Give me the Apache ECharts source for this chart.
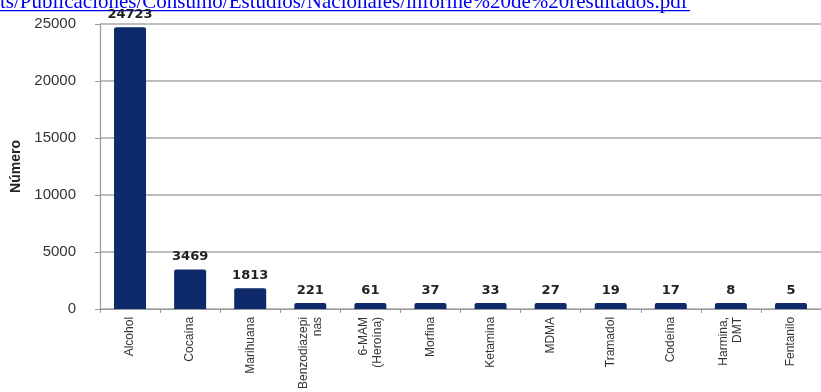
<!DOCTYPE html>
<html><head><meta charset="utf-8">
<script src="https://cdn.jsdelivr.net/npm/echarts@6/dist/echarts.min.js"></script>
<style>html,body{margin:0;padding:0;background:#fff}#c{width:821px;height:392px}</style>
</head><body><div id="c"></div>
<script>
const categories = ["Alcohol","Cocaína","Marihuana","Benzodiazepi\nnas","6-MAM\n(Heroína)","Morfina","Ketamina","MDMA","Tramadol","Codeína","Harmina,\nDMT","Fentanilo"];
const values = [24723,3469,1813,221,61,37,33,27,19,17,8,5];
const yTicks = [0,5000,10000,15000,20000,25000];
const urlText = "ts/Publicaciones/Consumo/Estudios/Nacionales/informe%20de%20resultados.pdf";
const yName = "Número";

const chart = echarts.init(document.getElementById('c'));
chart.setOption({
  animation:false,
  backgroundColor:'#fff',
  graphic:[{type:'text',left:0,top:-8,style:{text:urlText,fill:'#0000ee',font:'21px "Liberation Serif"'}},
           {type:'rect',left:0,top:10,shape:{width:690,height:1.2},style:{fill:'#0000ee'}}],
  grid:{left:100,right:-6,top:24,bottom:82},
  xAxis:{type:'category',data:categories,
    axisLine:{lineStyle:{color:'#9a9a9a',width:1.2}},
    axisTick:{show:true,length:4,lineStyle:{color:'#9a9a9a'}},
    axisLabel:{rotate:90,fontSize:12,color:'#333',fontFamily:'Liberation Sans',margin:8,lineHeight:14}},
  yAxis:{type:'value',min:0,max:25000,interval:5000,
    name:yName,nameLocation:'middle',nameGap:76,nameRotate:90,
    nameTextStyle:{fontWeight:'bold',fontSize:14,color:'#222',fontFamily:'Liberation Sans'},
    axisLine:{show:true,lineStyle:{color:'#9a9a9a',width:1.2}},
    axisTick:{show:true,length:5,lineStyle:{color:'#9a9a9a'}},
    axisLabel:{fontSize:15,color:'#333',fontFamily:'Liberation Sans',margin:24,
      formatter:v=>yTicks.includes(v)?String(v):''},
    splitLine:{lineStyle:{color:'#a8a8a8',width:1.5}}},
  series:[{type:'bar',data:values,barWidth:32,barMinHeight:6,
    itemStyle:{color:'#0f2a6a',borderRadius:[2,2,0,0]},
    label:{show:true,position:'top',distance:6,fontWeight:'bold',fontSize:13,color:'#222',fontFamily:'DejaVu Sans'}}]
});
</script></body></html>
